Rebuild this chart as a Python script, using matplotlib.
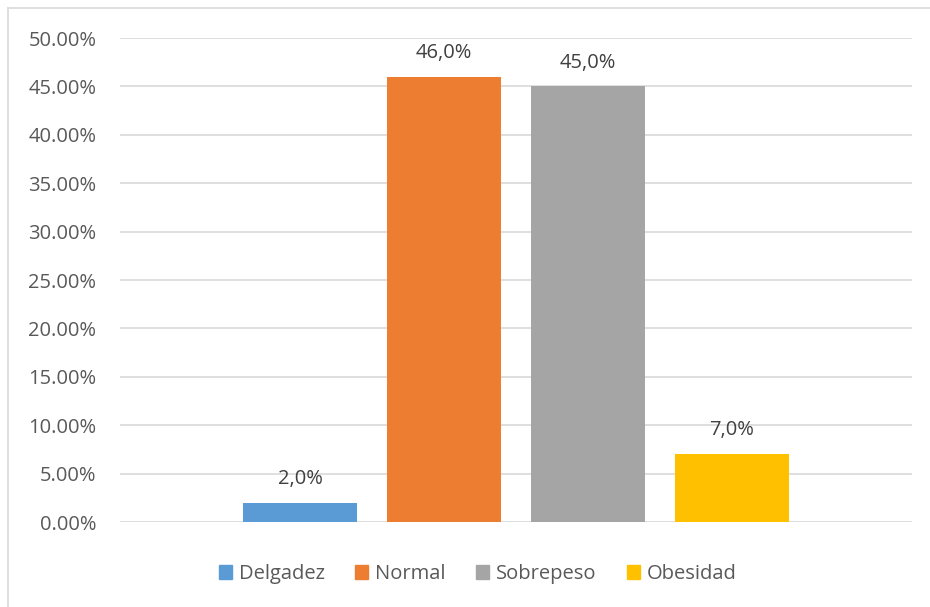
import matplotlib
matplotlib.use("Agg")
import matplotlib.pyplot as plt
from matplotlib.lines import Line2D
from matplotlib.ticker import FuncFormatter, MultipleLocator

categories = ["Delgadez", "Normal", "Sobrepeso", "Obesidad"]
values = [2.0, 46.0, 45.0, 7.0]
labels = ["2,0%", "46,0%", "45,0%", "7,0%"]
colors = ["#5B9BD5", "#ED7D31", "#A5A5A5", "#FFC000"]

plt.rcParams['font.family'] = ['Open Sans', 'DejaVu Sans']
W, H = 930, 607
fig = plt.figure(figsize=(W / 100, H / 100), dpi=100)
ax = fig.add_axes([120 / W, 1 - 522 / H, (912 - 120) / W, (522 - 38) / H])

x = list(range(len(categories)))
bars = ax.bar(x, values, width=114 / 144, color=colors, zorder=3)
for xi, v, lab in zip(x, values, labels):
    ax.annotate(lab, (xi, v), xytext=(0, 10), textcoords="offset points",
                ha="center", va="bottom", fontsize=14.5, color="#404040")

ax.set_xlim(-1.25, 4.25)
ax.set_ylim(0, 50)
ax.yaxis.set_major_locator(MultipleLocator(5))
ax.yaxis.set_major_formatter(FuncFormatter(lambda v, p: f"{v:.2f}%"))
ax.grid(axis="y", color="#D9D9D9", linewidth=1.2, zorder=0)
for s in ax.spines.values():
    s.set_visible(False)
ax.set_xticks([])
ax.tick_params(axis="y", length=0, pad=17, labelsize=14.5, labelcolor="#595959")

handles = [plt.Rectangle((0, 0), 1, 1, color=c) for c in colors]
fig.legend(handles, categories, loc="center", bbox_to_anchor=(478 / W, 1 - 574 / H),
           ncol=4, frameon=False, fontsize=14.5, handlelength=0.65, handleheight=0.65,
           handletextpad=0.35, columnspacing=1.5, labelcolor="#595959")

fig.add_artist(Line2D([7.5 / W, 7.5 / W], [0, 1 - 7.5 / H], color="#D9D9D9", lw=1.2,
                      transform=fig.transFigure))
fig.add_artist(Line2D([7.5 / W, 1], [1 - 7.5 / H, 1 - 7.5 / H], color="#D9D9D9", lw=1.2,
                      transform=fig.transFigure))

fig.savefig("out.png", dpi=100)
